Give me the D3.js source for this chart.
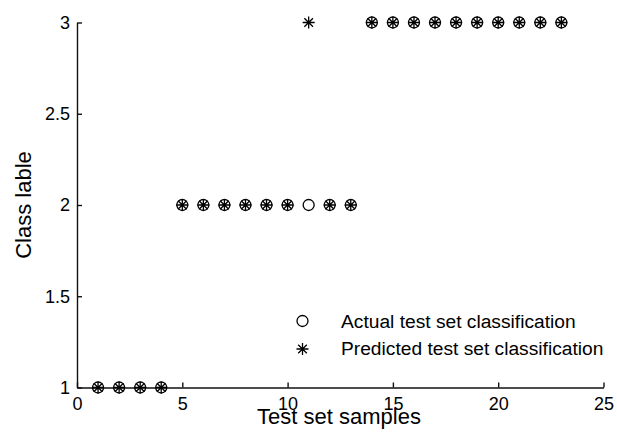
<!DOCTYPE html>
<html>
<head>
<meta charset="utf-8">
<script src="https://cdn.jsdelivr.net/npm/d3@7"></script>
<style>
  body { margin: 0; background: #fff; }
  text { font-family: "Liberation Sans", Arial, sans-serif; fill: #000; }
</style>
</head>
<body>
<svg id="chart" width="617" height="432"></svg>
<script>

// test set sample index
const samples = [1, 2, 3, 4, 5, 6, 7, 8, 9, 10, 11, 12, 13, 14, 15, 16, 17, 18, 19, 20, 21, 22, 23];
// actual class per sample
const actual = [1, 1, 1, 1, 2, 2, 2, 2, 2, 2, 2, 2, 2, 3, 3, 3, 3, 3, 3, 3, 3, 3, 3];
// predicted class per sample
const predicted = [1, 1, 1, 1, 2, 2, 2, 2, 2, 2, 3, 2, 2, 3, 3, 3, 3, 3, 3, 3, 3, 3, 3];

const xTicks = [0, 5, 10, 15, 20, 25];
const yTicks = [1, 1.5, 2, 2.5, 3];
const legendLabels = ["Actual test set classification", "Predicted test set classification"];


var svg = d3.select("#chart");

var x = d3.scaleLinear()
    .domain([0, 25])
    .range([77, 603.5]);

var y = d3.scaleLinear()
    .domain([1, 3])
    .range([387.5, 22.5]);


// axes, matlab style: ticks point inward, no box
var xAxisG = svg.append("g")
    .attr("transform", "translate(0," + y(1) + ")")
    .call(d3.axisBottom(x)
        .tickValues(xTicks)
        .tickFormat(d => String(d))
        .tickSizeInner(-5)
        .tickSizeOuter(0)
        .tickPadding(10));

var yAxisG = svg.append("g")
    .attr("transform", "translate(" + x(0) + ",0)")
    .call(d3.axisLeft(y)
        .tickValues(yTicks)
        .tickFormat(d => String(d))
        .tickSizeInner(-5)
        .tickSizeOuter(0)
        .tickPadding(7));

svg.selectAll(".domain, .tick line")
    .attr("stroke", "#111")
    .attr("stroke-width", 1.4);

svg.selectAll(".tick text")
    .style("font-family", '"Liberation Sans", Arial, sans-serif')
    .style("font-size", "18px")
    .attr("fill", "#000");


// axis titles
svg.append("text")
    .attr("x", 339)
    .attr("y", 424)
    .attr("text-anchor", "middle")
    .style("font-size", "22px")
    .text("Test set samples");

svg.append("text")
    .attr("transform", "translate(31," + ((y(1) + y(3)) / 2) + ") rotate(-90)")
    .attr("text-anchor", "middle")
    .style("font-size", "22px")
    .text("Class lable");


// asterisk marker: plus and cross through the centre
function asterisk(cx, cy, r) {
    var d = r * 0.72;
    return "M" + (cx - r) + "," + cy + "L" + (cx + r) + "," + cy +
        "M" + cx + "," + (cy - r) + "L" + cx + "," + (cy + r) +
        "M" + (cx - d) + "," + (cy - d) + "L" + (cx + d) + "," + (cy + d) +
        "M" + (cx - d) + "," + (cy + d) + "L" + (cx + d) + "," + (cy - d);
}


// actual classes as open circles
svg.append("g")
    .selectAll("circle")
    .data(samples)
    .enter()
    .append("circle")
    .attr("cx", d => x(d))
    .attr("cy", (d, i) => y(actual[i]))
    .attr("r", 5.5)
    .attr("fill", "none")
    .attr("stroke", "#000")
    .attr("stroke-width", 1.3);

// predicted classes as asterisks
svg.append("g")
    .selectAll("path")
    .data(samples)
    .enter()
    .append("path")
    .attr("d", (d, i) => asterisk(x(d), y(predicted[i]), 6))
    .attr("fill", "none")
    .attr("stroke", "#000")
    .attr("stroke-width", 1.3);


// legend
var legend = svg.append("g");

legend.append("circle")
    .attr("cx", 302.5)
    .attr("cy", 321)
    .attr("r", 5.5)
    .attr("fill", "none")
    .attr("stroke", "#000")
    .attr("stroke-width", 1.3);

legend.append("path")
    .attr("d", asterisk(302.5, 349, 6))
    .attr("fill", "none")
    .attr("stroke", "#000")
    .attr("stroke-width", 1.3);

legend.selectAll(".legendText")
    .data(legendLabels)
    .enter()
    .append("text")
    .attr("class", "legendText")
    .attr("x", 341)
    .attr("y", (d, i) => 321 + i * 27.5)
    .attr("dy", "0.36em")
    .style("font-size", "19.2px")
    .text(d => d);

</script>
</body>
</html>
